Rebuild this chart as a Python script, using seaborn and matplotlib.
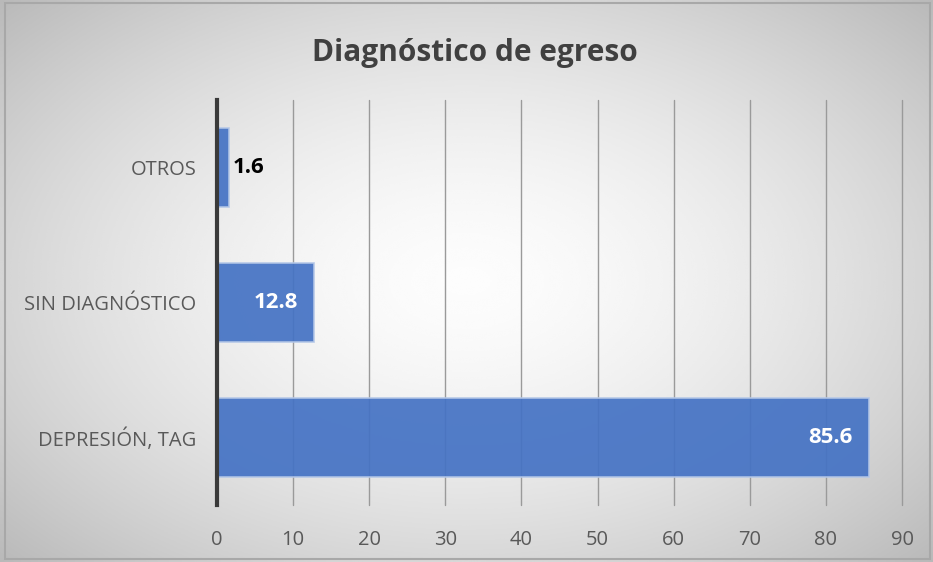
import numpy as np
import pandas as pd
import matplotlib
matplotlib.use("Agg")
import matplotlib.pyplot as plt
import seaborn as sns

# Data
categories = ["OTROS", "SIN DIAGNÓSTICO", "DEPRESIÓN, TAG"]
values = [1.6, 12.8, 85.6]
x_ticks = [0, 10, 20, 30, 40, 50, 60, 70, 80, 90]
title = "Diagnóstico de egreso"

df = pd.DataFrame({"categoria": categories, "valor": values})

sns.set_theme(style="white")
plt.rcParams["font.family"] = ["Open Sans", "DejaVu Sans"]

fig = plt.figure(figsize=(9.33, 5.62), dpi=100)

# Radial gradient background with a thin frame
bg = fig.add_axes([0, 0, 1, 1], zorder=-10)
yy, xx = np.mgrid[-1:1:300j, -1:1:500j]
r = np.sqrt((xx / 1.05) ** 2 + (yy / 1.1) ** 2)
shade = np.clip(0.99 - 0.17 * r ** 1.6, 0, 1)
bg.imshow(shade, cmap="gray", vmin=0, vmax=1, aspect="auto",
          extent=[0, 1, 0, 1], interpolation="bicubic")
bg.set_xlim(0, 1)
bg.set_ylim(0, 1)
bg.add_patch(plt.Rectangle((0.005, 0.006), 0.992, 0.988, fill=False,
                           edgecolor="#a8a8a8", linewidth=1.5))
bg.axis("off")

ax = fig.add_axes([0.2326, 0.1014, 0.7342, 0.7206])
ax.patch.set_alpha(0)

sns.barplot(data=df, x="valor", y="categoria", orient="h", ax=ax,
            color="#4472C4", width=0.59, edgecolor="#b4c7e7", linewidth=1.2,
            alpha=0.92, saturation=1, zorder=3)

ax.set_xlim(0, 90)
ax.set_ylim(2.5, -0.5)
ax.set_xticks(x_ticks)
ax.set_xticklabels([str(t) for t in x_ticks])
ax.set_xlabel("")
ax.set_ylabel("")
ax.tick_params(axis="x", length=0, pad=18, labelsize=14.5, labelcolor="#595959")
ax.tick_params(axis="y", length=0, pad=15, labelsize=14.5, labelcolor="#595959")

for t in x_ticks[1:]:
    ax.axvline(t, color="#9a9a9a", linewidth=1.0, zorder=1, clip_on=False)

for s in ["top", "right", "bottom"]:
    ax.spines[s].set_visible(False)
ax.spines["left"].set_color("#3a3a3a")
ax.spines["left"].set_linewidth(3)
ax.spines["left"].set_zorder(5)

# Value labels
for i, v in enumerate(values):
    if v < 5:
        ax.text(v + 0.5, i, f"{v:.1f}", va="center", ha="left",
                fontsize=16, fontweight="bold", color="black", zorder=6)
    else:
        ax.text(v - 2.1, i, f"{v:.1f}", va="center", ha="right",
                fontsize=16, fontweight="bold", color="white", zorder=6)

fig.text(0.509, 0.906, title, ha="center", va="center", fontsize=21.5,
         fontweight="bold", color="#404040")

fig.savefig("out.png", dpi=100)
